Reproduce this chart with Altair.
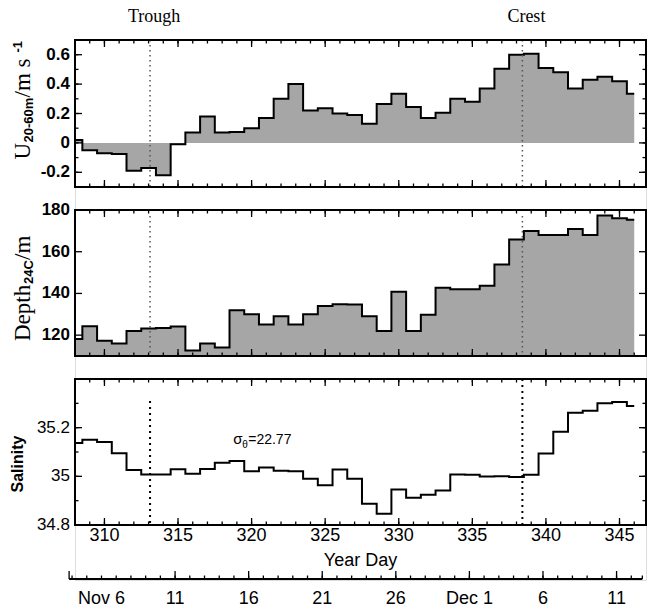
import altair as alt
import pandas as pd

# ---------------- daily series (year days 308-346) ----------------
days = list(range(308, 347))

u_20_60 = [0.02, -0.05, -0.07, -0.075, -0.19, -0.17, -0.22, -0.01, 0.07, 0.18,
           0.07, 0.075, 0.10, 0.17, 0.30, 0.40, 0.22, 0.235, 0.20, 0.19,
           0.13, 0.265, 0.335, 0.245, 0.17, 0.205, 0.30, 0.28, 0.37, 0.505,
           0.60, 0.607, 0.51, 0.48, 0.37, 0.43, 0.45, 0.42, 0.335]

depth_24c = [118.2, 124.3, 117.3, 116.0, 122.0, 123.2, 123.4, 124.2, 112.6, 116.0,
             114.1, 131.9, 130.0, 125.1, 129.0, 125.1, 130.0, 134.0, 134.8, 134.7,
             129.0, 122.0, 140.8, 122.0, 129.8, 142.7, 142.0, 142.0, 143.7, 153.9,
             165.9, 169.9, 168.0, 168.0, 170.9, 168.0, 177.4, 176.1, 175.3]

salinity = [35.137, 35.150, 35.141, 35.095, 35.026, 35.008, 35.008, 35.029, 35.011, 35.030,
            35.056, 35.063, 35.021, 35.036, 35.023, 35.021, 34.990, 34.963, 35.028, 34.990,
            34.887, 34.846, 34.946, 34.912, 34.924, 34.942, 35.008, 35.007, 34.999, 35.000,
            34.997, 35.007, 35.094, 35.183, 35.261, 35.270, 35.300, 35.305, 35.289]

# wave phase markers
event_days = [313.1, 338.4]
event_names = ["Trough", "Crest"]
trough_line_top_sal = 35.31

# isopycnal annotation on the salinity panel
sigma_day = [318.75]
sigma_sal = [35.132]

# tick values and their labels
yearday_major = [310, 315, 320, 325, 330, 335, 340, 345]
yearday_labels = ["310", "315", "320", "325", "330", "335", "340", "345"]
yearday_minor = list(range(309, 347))
u_major = [-0.2, 0, 0.2, 0.4, 0.6]
u_labels = ["-0.2", "0", "0.2", "0.4", "0.6"]
u_minor = [-0.2, -0.1, 0.0, 0.1, 0.2, 0.3, 0.4, 0.5, 0.6]
depth_major = [120, 140, 160, 180]
depth_labels = ["120", "140", "160", "180"]
sal_label_vals = [34.8, 35, 35.2]
sal_labels = ["34.8", "35", "35.2"]
sal_major = [35.0, 35.2]
sal_minor = [34.9, 35.0, 35.1, 35.2, 35.3]

# calendar axis
date_label_days = [310, 315, 320, 325, 330, 335, 340, 345]
date_labels = ["Nov 6", "11", "16", "21", "26", "Dec 1", "6", "11"]
date_major_days = [307.8, 315, 320, 325, 330, 335, 340, 345]
date_minor_days = list(range(308, 347)) + [346.75]
date_line = [307.8, 346.75]

# ---------------- layout and styling ----------------
W = 571
H = 540
# vertical pixel extent (top, bottom) of each panel inside the plot area
TOP_PANEL = (0, 147)
MID_PANEL = (170, 316)
BOT_PANEL = (339, 485)
DATE_LINE_Y = 539
FILL = "#a6a6a6"
SERIF = "Liberation Serif"
SANS = "Liberation Sans"
MINOR, MAJOR = 3.5, 7

X_DOMAIN = [308, 346.8]
XS = alt.Scale(domain=X_DOMAIN, nice=False, zero=False)
XS_DATE = alt.Scale(domain=[308.2, 347.0], nice=False, zero=False)

U_DOMAIN = [-0.3, 0.7]
D_DOMAIN = [110, 180]
S_DOMAIN = [34.8, 35.4]
ys_u = alt.Scale(domain=U_DOMAIN, range=[TOP_PANEL[1], TOP_PANEL[0]], nice=False, zero=False)
ys_d = alt.Scale(domain=D_DOMAIN, range=[MID_PANEL[1], MID_PANEL[0]], nice=False, zero=False)
ys_s = alt.Scale(domain=S_DOMAIN, range=[BOT_PANEL[1], BOT_PANEL[0]], nice=False, zero=False)

series = pd.DataFrame({"day": days, "u": u_20_60, "depth": depth_24c, "sal": salinity})
events = pd.DataFrame({"day": event_days, "name": event_names})


def xq(field="day", scale=XS):
    return alt.X(f"{field}:Q", scale=scale, axis=None)


def yq(field, scale):
    return alt.Y(f"{field}:Q", scale=scale, axis=None)


def frame(ys, dom):
    box = pd.DataFrame({"x0": [X_DOMAIN[0]], "x1": [X_DOMAIN[1]], "y0": [dom[0]], "y1": [dom[1]]})
    return alt.Chart(box).mark_rect(fillOpacity=0, stroke="black", strokeWidth=2).encode(
        x=xq("x0"), x2="x1:Q", y=yq("y0", ys), y2="y1:Q")


def y_labels(vals, labs, ys, bold):
    df = pd.DataFrame({"v": vals, "lab": labs})
    return alt.Chart(df).mark_text(
        align="right", baseline="middle", font=SANS, fontSize=17,
        fontWeight="bold" if bold else "normal", color="black"
    ).encode(y=yq("v", ys), x=alt.value(-5), text="lab:N")


def inward_ticks(ys, panel, y_minor, y_major):
    """IDL-style ticks pointing into the panel on all four sides."""
    t, b = panel
    layers = []
    for vals, L in ((yearday_minor, MINOR), (yearday_major, MAJOR)):
        base = alt.Chart(pd.DataFrame({"day": vals})).mark_rule(color="black", strokeWidth=1.3)
        layers.append(base.encode(x=xq(), y=alt.value(t), y2=alt.value(t + L)))
        layers.append(base.encode(x=xq(), y=alt.value(b), y2=alt.value(b - L)))
    for vals, L in ((y_minor, MINOR), (y_major, MAJOR)):
        if not vals:
            continue
        base = alt.Chart(pd.DataFrame({"v": vals})).mark_rule(color="black", strokeWidth=1.3)
        layers.append(base.encode(y=yq("v", ys), x=alt.value(0), x2=alt.value(L)))
        layers.append(base.encode(y=yq("v", ys), x=alt.value(W), x2=alt.value(W - L)))
    return layers


def rotated_title(pieces, x0, y0):
    """Vertical axis title assembled from pieces (for sub/superscripts)."""
    layers = []
    for text, font, size, weight, dx, dy in pieces:
        layers.append(
            alt.Chart(pd.DataFrame({"t": [text]})).mark_text(
                angle=270, align="left", baseline="alphabetic", font=font,
                fontSize=size, fontWeight=weight, dx=dx, dy=dy, color="black"
            ).encode(x=alt.value(x0), y=alt.value(y0), text="t:N")
        )
    return layers


layers = []

# ---------------- top panel: U 20-60m ----------------
layers += [
    alt.Chart(series).mark_area(interpolate="step", color=FILL).encode(
        x=xq(), y=yq("u", ys_u), y2=alt.datum(0)),
    alt.Chart(series).mark_line(interpolate="step", color="black", strokeWidth=2).encode(
        x=xq(), y=yq("u", ys_u)),
    alt.Chart(events).mark_rule(color="#555555", strokeWidth=1.5, strokeDash=[1.5, 3.5]).encode(
        x=xq(), y=alt.value(TOP_PANEL[0]), y2=alt.value(TOP_PANEL[1])),
    alt.Chart(events).mark_text(font=SERIF, fontSize=18, color="black", dx=4, baseline="alphabetic").encode(
        x=xq(), y=alt.value(TOP_PANEL[0] - 18), text="name:N"),
    y_labels(u_major, u_labels, ys_u, True),
    frame(ys_u, U_DOMAIN),
]
layers += inward_ticks(ys_u, TOP_PANEL, u_minor, u_major)
layers += rotated_title([
    ("U", SERIF, 23, "normal", 0, 0),
    ("20-60m", SANS, 13, "bold", 17, 3),
    (" /m s", SERIF, 23, "normal", 62, 0),
    ("-1", SANS, 13, "bold", 107, -8),
], -45, TOP_PANEL[0] + 119.5)

# ---------------- middle panel: depth of 24C isotherm ----------------
layers += [
    alt.Chart(series).mark_area(interpolate="step", color=FILL).encode(
        x=xq(), y=yq("depth", ys_d), y2=alt.datum(D_DOMAIN[0])),
    alt.Chart(series).mark_line(interpolate="step", color="black", strokeWidth=2).encode(
        x=xq(), y=yq("depth", ys_d)),
    alt.Chart(events).mark_rule(color="#555555", strokeWidth=1.5, strokeDash=[1.5, 3.5]).encode(
        x=xq(), y=alt.value(MID_PANEL[0] + 6), y2=alt.value(MID_PANEL[1])),
    y_labels(depth_major, depth_labels, ys_d, True),
    frame(ys_d, D_DOMAIN),
]
layers += inward_ticks(ys_d, MID_PANEL, [], depth_major)
layers += rotated_title([
    ("Depth", SERIF, 23, "normal", 0, 0),
    ("24C", SANS, 13, "bold", 57, 3),
    (" /m", SERIF, 23, "normal", 81, 0),
], -45, MID_PANEL[0] + 131)

# ---------------- bottom panel: salinity ----------------
sig = pd.DataFrame({"day": sigma_day, "sal": sigma_sal})
layers += [
    alt.Chart(series).mark_line(interpolate="step", color="black", strokeWidth=2).encode(
        x=xq(), y=yq("sal", ys_s)),
    alt.Chart(events.iloc[[0]]).mark_rule(color="black", strokeWidth=2, strokeDash=[2, 4]).encode(
        x=xq(), y=alt.YDatum(trough_line_top_sal, scale=ys_s, axis=None), y2=alt.datum(S_DOMAIN[0])),
    alt.Chart(events.iloc[[1]]).mark_rule(color="black", strokeWidth=2, strokeDash=[2, 4]).encode(
        x=xq(), y=alt.value(BOT_PANEL[0]), y2=alt.value(BOT_PANEL[1])),
    y_labels(sal_label_vals, sal_labels, ys_s, False),
    frame(ys_s, S_DOMAIN),
    alt.Chart(pd.DataFrame({"t": ["Salinity"]})).mark_text(
        angle=270, align="center", baseline="alphabetic", font=SANS, fontSize=16,
        fontWeight="bold", color="black").encode(
        x=alt.value(-52), y=alt.value(BOT_PANEL[0] + 85), text="t:N"),
    alt.Chart(pd.DataFrame({"day": yearday_major, "lab": yearday_labels})).mark_text(
        font=SANS, fontSize=18, baseline="middle", color="black").encode(
        x=xq(), y=alt.value(BOT_PANEL[1] + 11), text="lab:N"),
    alt.Chart(pd.DataFrame({"t": ["Year Day"]})).mark_text(
        font=SANS, fontSize=18, baseline="middle", color="black").encode(
        x=alt.value(W / 2), y=alt.value(BOT_PANEL[1] + 36), text="t:N"),
]
for text, size, dx, dy in (("σ", 15, 0, 0), ("θ", 10, 9, 4), ("=22.77", 14, 15, 0)):
    layers.append(alt.Chart(sig.assign(t=text)).mark_text(
        font=SANS, fontSize=size, align="left", baseline="alphabetic", dx=dx, dy=dy, color="black"
    ).encode(x=xq(), y=yq("sal", ys_s), text="t:N"))
layers += inward_ticks(ys_s, BOT_PANEL, sal_minor, sal_major)

# ---------------- calendar date axis ----------------
layers += [
    alt.Chart(pd.DataFrame({"a": [date_line[0]], "b": [date_line[1]]})).mark_rule(
        color="black", strokeWidth=2).encode(
        x=xq("a", XS_DATE), x2="b:Q", y=alt.value(DATE_LINE_Y)),
    alt.Chart(pd.DataFrame({"day": date_minor_days})).mark_rule(color="black", strokeWidth=1.3).encode(
        x=xq(scale=XS_DATE), y=alt.value(DATE_LINE_Y), y2=alt.value(DATE_LINE_Y - MINOR)),
    alt.Chart(pd.DataFrame({"day": date_major_days})).mark_rule(color="black", strokeWidth=1.3).encode(
        x=xq(scale=XS_DATE), y=alt.value(DATE_LINE_Y), y2=alt.value(DATE_LINE_Y - 8)),
    alt.Chart(pd.DataFrame({"day": date_label_days, "lab": date_labels})).mark_text(
        font=SANS, fontSize=18, baseline="middle", color="black").encode(
        x=xq(scale=XS_DATE), y=alt.value(DATE_LINE_Y + 20), text="lab:N"),
]

chart = alt.layer(*layers).resolve_scale(x="independent", y="independent").properties(
    width=W, height=H,
    padding={"left": 10, "top": 8, "right": 0, "bottom": 0},
).configure_view(strokeOpacity=0).configure(background="white")

chart.save("out.html", embed_options={"renderer": "svg", "actions": False})
